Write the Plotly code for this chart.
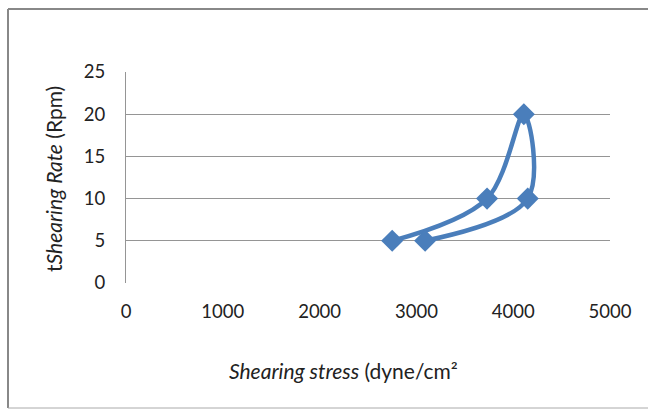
import plotly.graph_objects as go

W, H = 648, 410
stress = [2750, 3730, 4110, 4150, 3090]
rate = [5, 10, 20, 10, 5]
x_ticks = [0, 1000, 2000, 3000, 4000, 5000]
y_ticks = [0, 5, 10, 15, 20, 25]

COLOR = "#4A7EBB"
FONT = "Lato"
FS = 18.5
FT = 21

fig = go.Figure()
fig.add_trace(go.Scatter(
    x=stress, y=rate, mode="lines+markers",
    line=dict(color=COLOR, width=4.5, shape="spline", smoothing=1.0),
    marker=dict(symbol="diamond", size=17, color=COLOR),
    showlegend=False,
))

def px(x):
    return x / W

def py(y):
    return 1 - y / H

fig.update_layout(
    template="none",
    width=W, height=H, autosize=False,
    margin=dict(l=0, r=0, t=0, b=0, pad=0),
    paper_bgcolor="white", plot_bgcolor="white",
    font=dict(family=FONT, size=FS, color="#222222"),
    xaxis=dict(
        domain=[px(126), px(610)], range=[0, 5000], tickvals=x_ticks,
        showgrid=False, zeroline=False, showline=False, automargin=False,
        ticks="outside", ticklen=12, tickcolor="rgba(0,0,0,0)",
    ),
    yaxis=dict(
        domain=[py(283), py(72)], range=[0, 25], tickvals=y_ticks,
        showgrid=True, gridcolor="#959595", gridwidth=1, automargin=False,
        zeroline=False, showline=True, linecolor="#959595", linewidth=1,
        ticks="outside", ticklen=16, tickcolor="rgba(0,0,0,0)",
    ),
    annotations=[
        dict(text="t<i>Shearing Rate</i> (Rpm)", xref="paper", yref="paper",
             x=px(54), y=py(179), showarrow=False, textangle=-90,
             xanchor="center", yanchor="middle", font=dict(size=FT)),
        dict(text="<i>Shearing stress</i> (dyne/cm²", xref="paper", yref="paper",
             x=px(343), y=py(370), showarrow=False,
             xanchor="center", yanchor="middle", font=dict(size=FT)),
    ],
    shapes=[
        dict(type="line", xref="paper", yref="paper", x0=px(8), x1=1.0, y0=py(9), y1=py(9),
             line=dict(color="#888888", width=2)),
        dict(type="line", xref="paper", yref="paper", x0=px(8), x1=px(8), y0=py(9), y1=py(408),
             line=dict(color="#888888", width=2)),
        dict(type="line", xref="paper", yref="paper", x0=px(8), x1=1.0, y0=py(408), y1=py(408),
             line=dict(color="#AAAAAA", width=1)),
    ],
)

fig.write_html("out.html")
